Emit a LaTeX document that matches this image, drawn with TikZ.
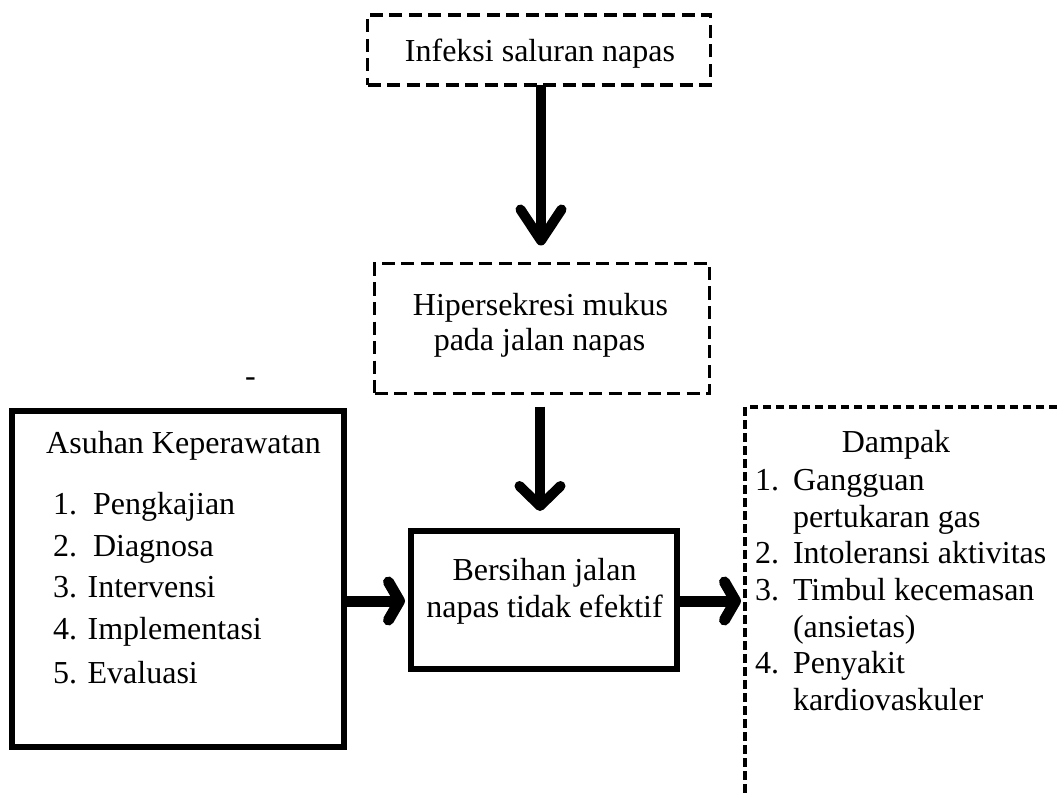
\documentclass[tikz,border=0pt]{standalone}
\usepackage{fontspec}
\setmainfont{Liberation Serif}
\usetikzlibrary{arrows.meta}
\tikzset{
  txt/.style={inner sep=0pt, outer sep=0pt, anchor=base, font=\fontsize{32}{40}\selectfont},
  txtw/.style={txt, anchor=base west},
  dbox/.style={draw, line width=3.6pt, dash pattern=on 13pt off 6.5pt, inner sep=0pt, outer sep=0pt},
  sbox/.style={draw, line width=5.5pt, inner sep=0pt, outer sep=0pt},
  openedge/.style={line width=3.4pt, dash pattern=on 8.5pt off 4.5pt},
  varr/.style={line width=10pt, -{Straight Barb[round, length=31pt, width=41pt]}},
  varrb/.style={line width=10pt, -{Straight Barb[round, length=20pt, width=41pt]}},
  harr/.style={line width=11pt, -{Straight Barb[round, length=11pt, width=38pt]}},
}
\begin{document}
\begin{tikzpicture}[x=1pt,y=-1pt]
\useasboundingbox (0,0) rectangle (1057,794);

% boxes
\node[dbox, minimum width=343pt, minimum height=70pt] (infeksi) at (539,50) {};
\node[dbox, minimum width=335pt, minimum height=130pt] (hiper) at (542,328.5) {};
\node[sbox, line width=6pt, minimum width=266pt, minimum height=138pt] (bersih) at (544,600) {};
\node[sbox, minimum width=332pt, minimum height=336pt] (asuhan) at (178,579) {};

% open dashed box (Dampak)
\coordinate (dtop) at (1057,407);
\coordinate (dcorner) at (745,407);
\coordinate (dbot) at (745,794);
\coordinate (dampakin) at (741,601);
\coordinate (vx1) at (541,0);
\coordinate (vx2) at (540,0);
\coordinate (hy) at (0,601);
\draw[openedge] (dtop) -- (dcorner) -- (dbot);

% texts
\node[txt] (t1) at (540,62) {Infeksi saluran napas};
\node[txt] (t2a) at (540.5,315) {Hipersekresi mukus};
\node[txt] (t2b) at (539.5,350) {pada jalan napas};
\node[txt] (t3a) at (544.5,580) {Bersihan jalan};
\node[txt] (t3b) at (544.5,617) {napas tidak efektif};

\node[txt] (a0) at (183.5,453) {Asuhan Keperawatan};
\node[txtw] (a1) at (53,514) {1.\ \ Pengkajian};
\node[txtw] (a2) at (53,556) {2.\ \ Diagnosa};
\node[txtw] (a3) at (53,597) {3. Intervensi};
\node[txtw] (a4) at (53,639) {4. Implementasi};
\node[txtw] (a5) at (53,683) {5. Evaluasi};

\node[txt] (d0) at (896,452) {Dampak};
\node[txtw] (d1n) at (755,490) {1.};
\node[txtw] (d1) at (793,490) {Gangguan};
\node[txtw] (d1b) at (793,527) {pertukaran gas};
\node[txtw] (d2n) at (755,563) {2.};
\node[txtw] (d2) at (793,563) {Intoleransi aktivitas};
\node[txtw] (d3n) at (755,600) {3.};
\node[txtw] (d3) at (793,600) {Timbul kecemasan};
\node[txtw] (d3b) at (793,637) {(ansietas)};
\node[txtw] (d4n) at (755,673) {4.};
\node[txtw] (d4) at (793,673) {Penyakit};
\node[txtw] (d4b) at (793,710) {kardiovaskuler};

\node[txt] (dash) at (250.5,386) {-};

% connectors
\draw[varr] (infeksi.south -| vx1) -- ([yshift=18pt]hiper.north -| vx1);
\draw[varrb] ([yshift=-13pt]hiper.south -| vx2) -- ([yshift=20pt]bersih.north -| vx2);
\draw[harr] (asuhan.east |- hy) -- ([xshift=-6pt]bersih.west |- hy);
\draw[harr] (bersih.east |- hy) -- (dampakin);
\end{tikzpicture}
\end{document}
